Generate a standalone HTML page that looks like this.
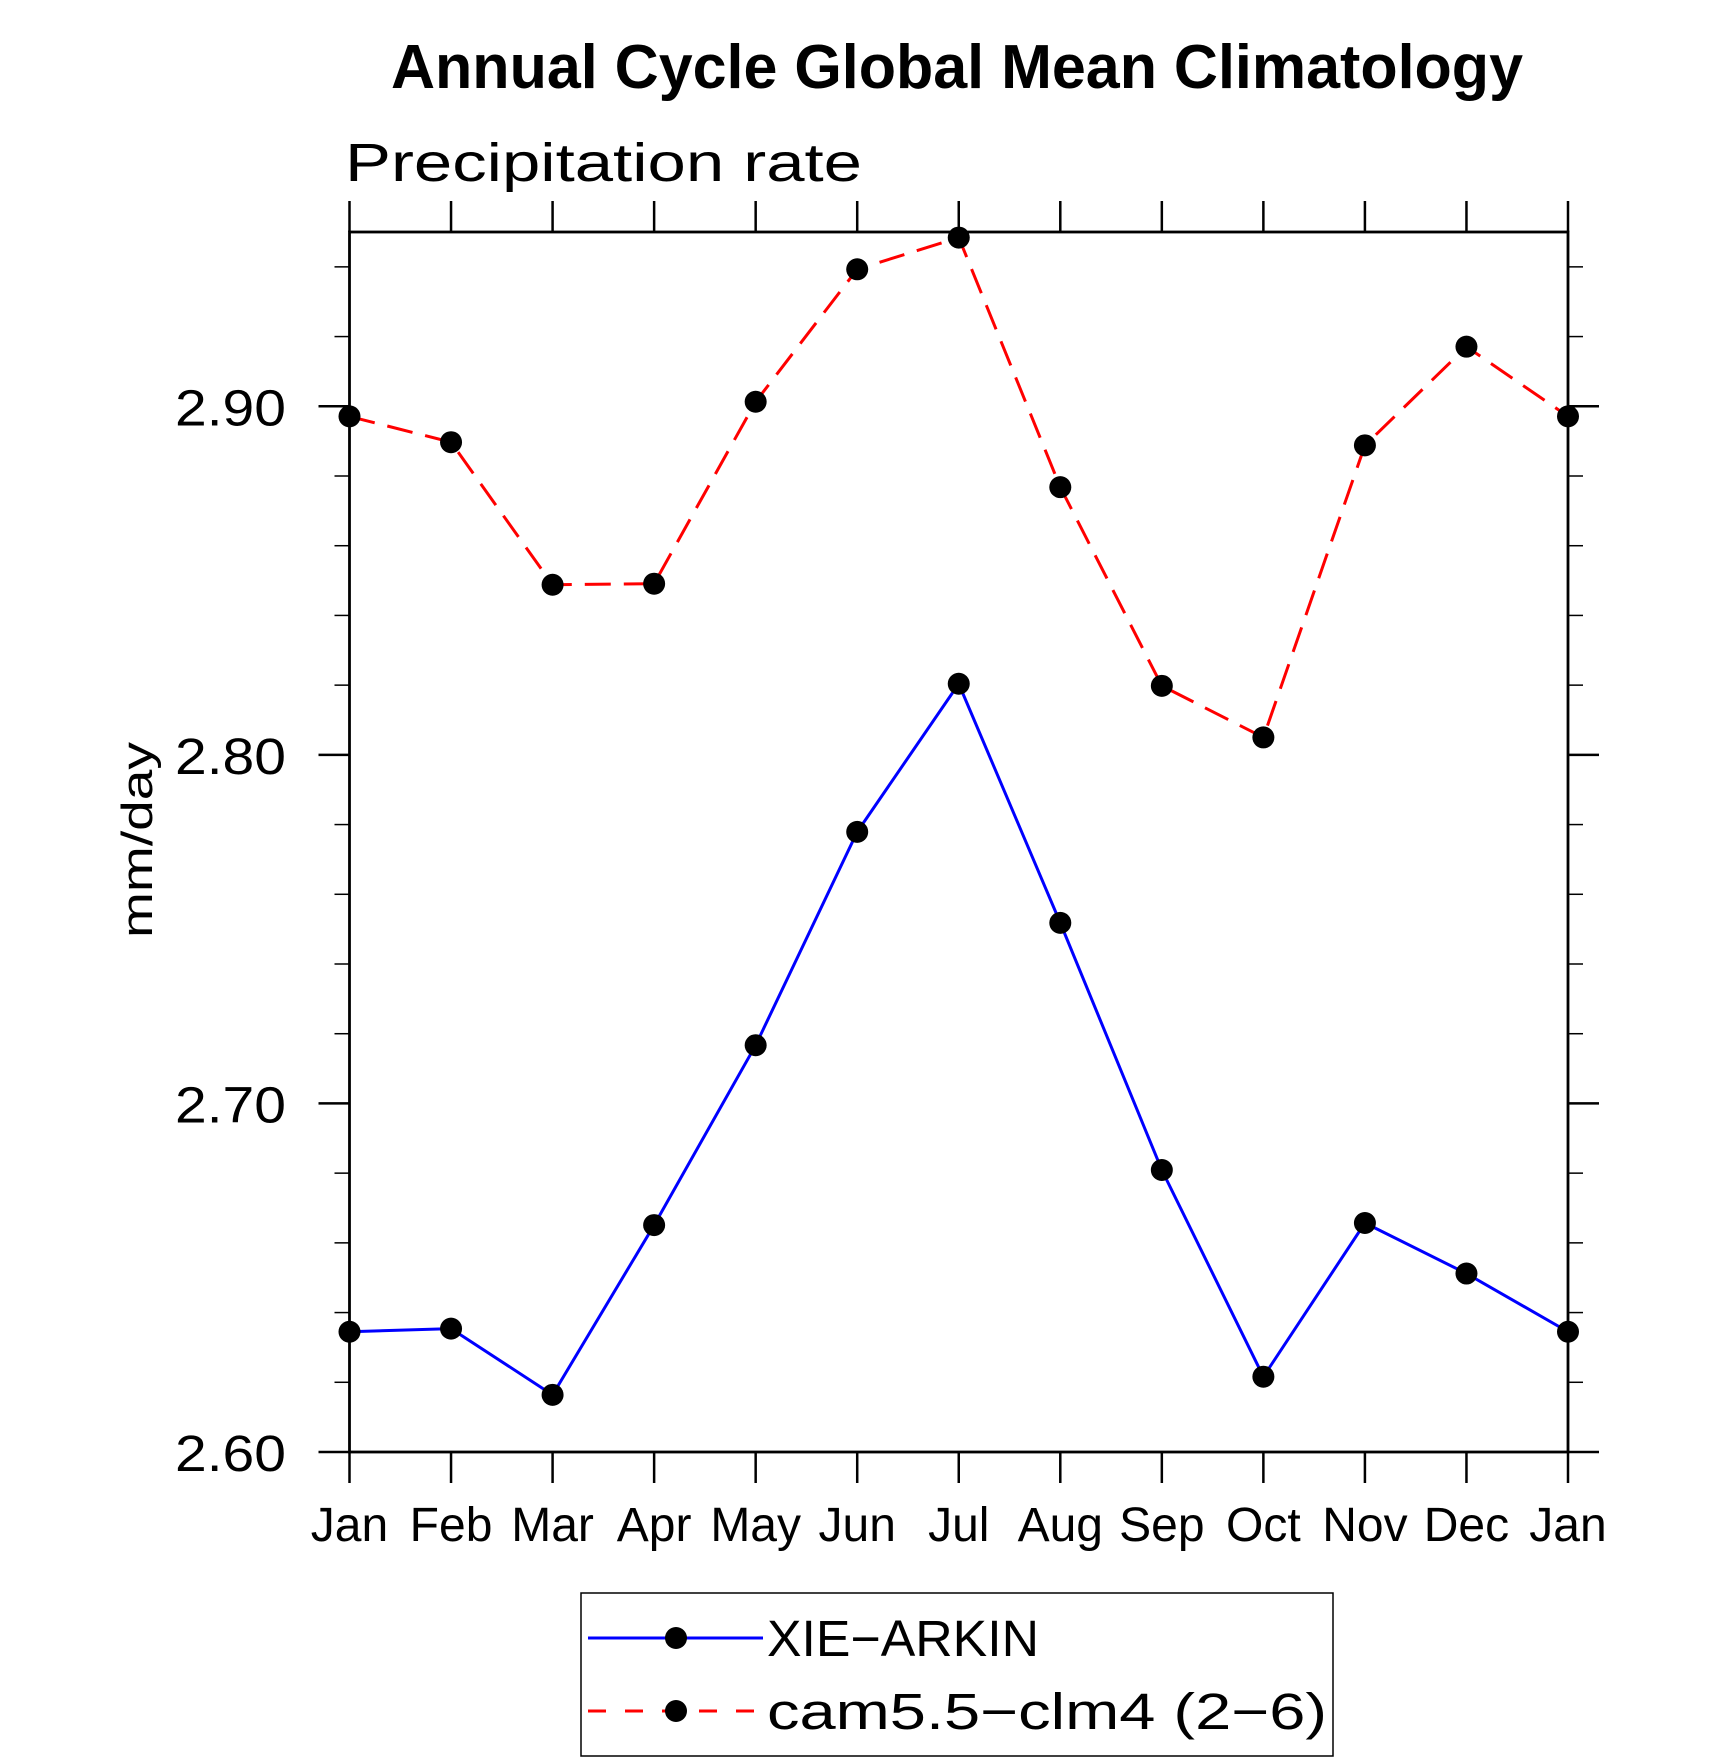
<!DOCTYPE html>
<html><head><meta charset="utf-8"><style>
html,body{margin:0;padding:0;background:#fff;}
svg{display:block;font-family:"Liberation Sans","DejaVu Sans",sans-serif;}
</style></head><body>
<svg id="chart" width="1710" height="1762" viewBox="0 0 1710 1762" xmlns="http://www.w3.org/2000/svg">
<text x="957" y="88" text-anchor="middle" font-size="62" font-weight="bold" textLength="1132" lengthAdjust="spacingAndGlyphs">Annual Cycle Global Mean Climatology</text>
<text x="345" y="181" font-size="54" font-weight="normal" textLength="517" lengthAdjust="spacingAndGlyphs">Precipitation rate</text>
<text transform="translate(152,840) rotate(-90)" text-anchor="middle" font-size="44" textLength="196" lengthAdjust="spacingAndGlyphs">mm/day</text>
<g id="axes"></g>
<g id="series"></g>
<g>
<rect x="581" y="1593" width="752" height="163" fill="none" stroke="#000" stroke-width="1.5"/>
<g>
<line x1="588" y1="1638" x2="763" y2="1638" stroke="#0000ff" stroke-width="3"/>
<circle cx="676" cy="1638" r="11" fill="#000"/>
<text x="767" y="1656" font-size="51" textLength="272" lengthAdjust="spacingAndGlyphs">XIE−ARKIN</text>
</g>
<g>
<line x1="588" y1="1711" x2="763" y2="1711" stroke="#ff0000" stroke-width="3" stroke-dasharray="18,19"/>
<circle cx="676" cy="1711" r="11" fill="#000"/>
<text x="767" y="1729" font-size="51" textLength="560" lengthAdjust="spacingAndGlyphs">cam5.5−clm4 (2−6)</text>
</g>
</g>
</svg>
<script>
const months = ["Jan","Feb","Mar","Apr","May","Jun","Jul","Aug","Sep","Oct","Nov","Dec","Jan"];
const xieArkin = [2.6345,2.6354,2.6164,2.6651,2.7167,2.7779,2.8204,2.7518,2.6809,2.6216,2.6657,2.6512,2.6345];
const cam55 = [2.8971,2.8897,2.8488,2.8491,2.9013,2.9393,2.9484,2.8768,2.8198,2.8050,2.8888,2.9171,2.8971];
const yMajorTicks = [2.60,2.70,2.80,2.90];
const yTickLabels = ["2.60","2.70","2.80","2.90"];
const yMin = 2.60, yMax = 2.95;

const L = 349.5, R = 1568, T = 232, B = 1452;
const NS = "http://www.w3.org/2000/svg";
function xs(i){ return L + (R - L) * i / (months.length - 1); }
function ys(v){ return B - (v - yMin) / (yMax - yMin) * (B - T); }
function mk(tag, attrs, parent){
  const e = document.createElementNS(NS, tag);
  for (const k in attrs) e.setAttribute(k, attrs[k]);
  parent.appendChild(e); return e;
}
const axes = document.getElementById('axes');
const series = document.getElementById('series');

const frame = mk('rect', {x:L, y:T, width:R-L, height:B-T, fill:'none', stroke:'#000', 'stroke-width':2.8}, axes);



months.forEach((m, i) => {
  const x = xs(i);
  mk('line', {x1:x, y1:B, x2:x, y2:B+31, stroke:'#000', 'stroke-width':2.5}, axes);
  mk('line', {x1:x, y1:T, x2:x, y2:T-31, stroke:'#000', 'stroke-width':2.5}, axes);
  const t = mk('text', {x:x, y:1541, 'text-anchor':'middle', 'font-size':48}, axes);
  t.textContent = m;
  
  
});

for (let k = 1; k < 18; k++) {
  const v = yMin + k * 0.02;
  if (Math.abs((v - yMin) / 0.1 - Math.round((v - yMin) / 0.1)) < 1e-6) continue;
  const y = ys(v);
  mk('line', {x1:L, y1:y, x2:L-15, y2:y, stroke:'#000', 'stroke-width':1.5}, axes);
  mk('line', {x1:R, y1:y, x2:R+15, y2:y, stroke:'#000', 'stroke-width':1.5}, axes);
}
yMajorTicks.forEach((v, i) => {
  const y = ys(v);
  mk('line', {x1:L, y1:y, x2:L-31, y2:y, stroke:'#000', 'stroke-width':2.5}, axes);
  mk('line', {x1:R, y1:y, x2:R+31, y2:y, stroke:'#000', 'stroke-width':2.5}, axes);
  const t = mk('text', {x:286, y:y+19, 'text-anchor':'end', 'font-size':51, textLength:111, lengthAdjust:'spacingAndGlyphs'}, axes);
  t.textContent = yTickLabels[i];
  
  
});

function drawSeries(vals, color, dash, name){
  const g = mk('g', {}, series);
  
  
  const pts = vals.map((v, i) => xs(i) + ',' + ys(v)).join(' ');
  const pl = mk('polyline', {points:pts, fill:'none', stroke:color, 'stroke-width':3, 'stroke-dasharray':dash}, g);
  
  
  vals.forEach((v, i) => {
    const c = mk('circle', {cx:xs(i), cy:ys(v), r:11, fill:'#000'}, g);
    
    
  });
}
drawSeries(xieArkin, '#0000ff', 'none', 'xie-arkin-series');
drawSeries(cam55, '#ff0000', '26,13', 'cam5-series');
</script>
</body></html>
